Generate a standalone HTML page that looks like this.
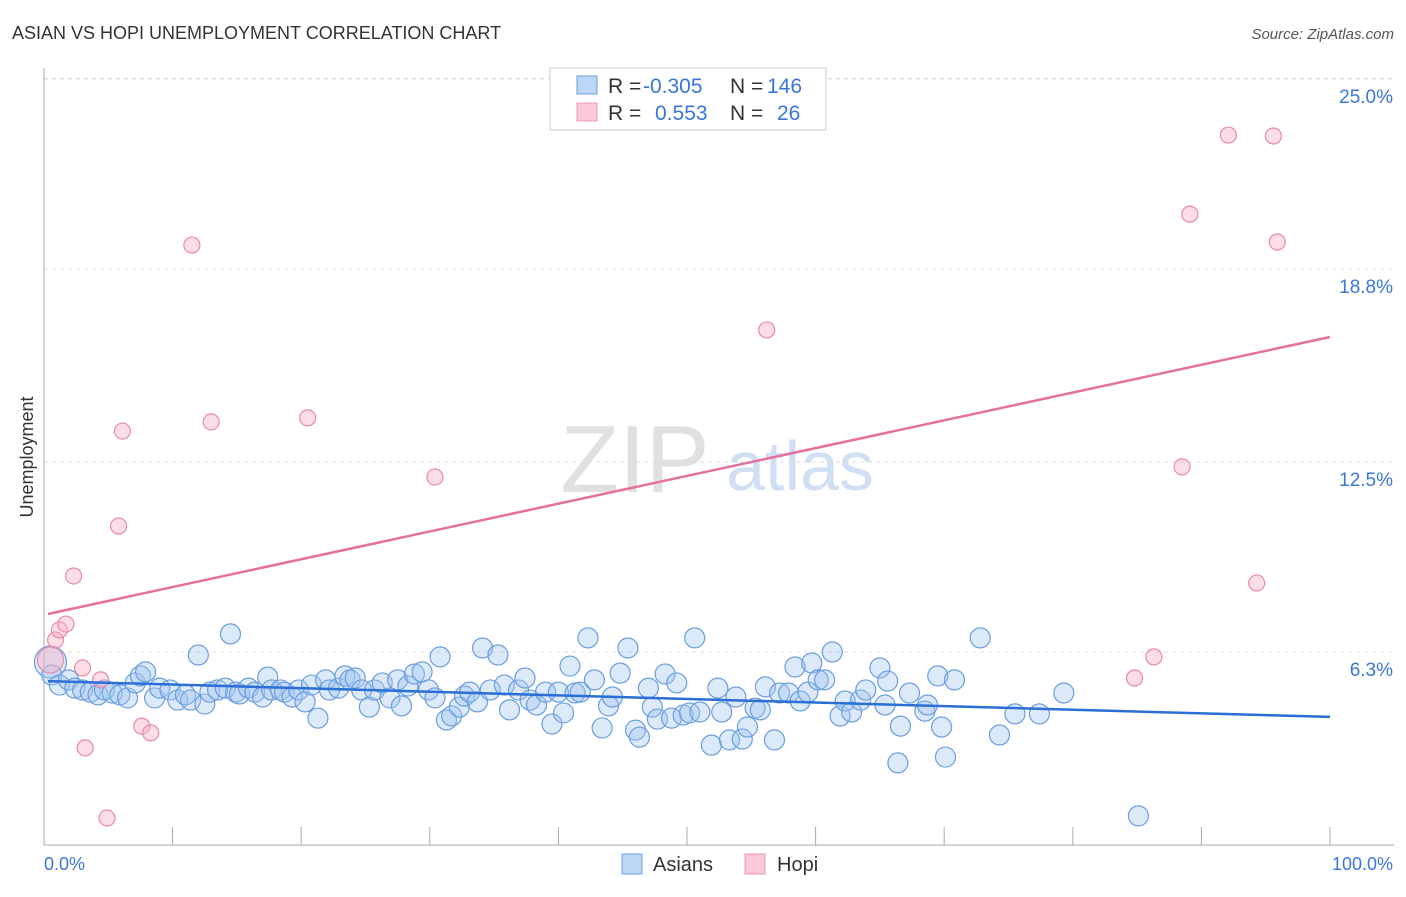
<!DOCTYPE html>
<html><head><meta charset="utf-8"><style>
body{margin:0;background:#fff;font-family:"Liberation Sans",sans-serif}
svg text{font-family:"Liberation Sans",sans-serif}
</style></head><body>
<svg id="c" width="1406" height="892" viewBox="0 0 1406 892">
<text x="12" y="39" font-size="18" fill="#333">ASIAN VS HOPI UNEMPLOYMENT CORRELATION CHART</text>
<text x="1394" y="39" font-size="15" fill="#555" text-anchor="end" font-style="italic">Source: ZipAtlas.com</text>
<text x="33" y="457" font-size="18" fill="#333" transform="rotate(-90 33 457)" text-anchor="middle">Unemployment</text>
<g>
<text x="635" y="492" font-size="96" fill="#e0e0e0" font-family="Liberation Serif" text-anchor="middle">ZIP</text>
<text x="800" y="490" font-size="70" fill="#d0dff4" text-anchor="middle">atlas</text>
</g>
<g id="grid"></g><g id="axes"></g><g id="pts"></g><g id="lines"></g>
<g>
<rect x="550" y="68" width="276" height="62" fill="#fff" stroke="#ccc"/>
<rect x="577" y="76" width="20" height="18" fill="#bcd6f6" stroke="#6a9de0"/>
<rect x="577" y="103" width="20" height="18" fill="#f9c9d7" stroke="#e89ab2"/>
<text x="608" y="93" font-size="21" fill="#333">R = </text><text x="643" y="93" font-size="21" fill="#3a76d8">-0.305</text>
<text x="730" y="93" font-size="21" fill="#333">N = </text><text x="767" y="93" font-size="21" fill="#3a76d8">146</text>
<text x="608" y="120" font-size="21" fill="#333">R = </text><text x="655" y="120" font-size="21" fill="#3a76d8">0.553</text>
<text x="730" y="120" font-size="21" fill="#333">N = </text><text x="777" y="120" font-size="21" fill="#3a76d8">26</text>
</g>
<g>
<rect x="622" y="854" width="20" height="20" fill="#bcd6f6" stroke="#6a9de0"/>
<text x="653" y="871" font-size="20" fill="#333">Asians</text>
<rect x="745" y="854" width="20" height="20" fill="#f9c9d7" stroke="#e89ab2"/>
<text x="777" y="871" font-size="20" fill="#333">Hopi</text>
</g>
</svg>
<script>
const yTicks=[6.3,12.5,18.8,25.0];
const yTickLabels=["6.3%","12.5%","18.8%","25.0%"];
const xTickVals=[0,10,20,30,40,50,60,70,80,90,100];
const asianX=[0.5,0.6,1.2,1.9,2.4,3.0,3.6,4.2,4.7,5.3,5.9,6.5,7.1,7.5,7.9,8.6,9.0,9.8,10.4,11.0,11.4,12.0,12.5,12.9,13.5,14.1,14.5,14.9,15.2,15.9,16.4,17.0,17.4,17.7,18.4,18.7,19.3,19.8,20.3,20.8,21.3,21.9,22.2,22.9,23.4,23.8,24.2,24.7,25.3,25.7,26.3,26.9,27.5,27.8,28.3,28.8,29.4,29.9,30.4,30.8,31.3,31.7,32.3,32.7,33.1,33.7,34.1,34.7,35.3,35.8,36.2,36.9,37.4,37.8,38.3,39.0,39.5,40.0,40.4,40.9,41.3,41.7,42.3,42.8,43.4,43.9,44.2,44.8,45.4,46.0,46.3,47.0,47.3,47.7,48.3,48.8,49.2,49.7,50.2,50.6,51.0,51.9,52.4,52.7,53.3,53.8,54.3,54.7,55.3,55.7,56.1,56.8,57.2,57.9,58.4,58.8,59.4,59.7,60.2,60.7,61.3,61.9,62.3,62.8,63.5,63.9,65.0,65.6,65.4,66.6,66.4,67.3,68.5,68.7,69.5,69.8,70.1,70.8,72.8,74.3,75.5,77.4,79.3,85.1];
const asianY=[5.97,5.55,5.22,5.39,5.12,5.06,4.99,4.90,5.06,4.96,4.90,4.80,5.29,5.52,5.65,4.80,5.12,5.06,4.73,4.90,4.73,6.20,4.60,4.99,5.06,5.12,6.89,4.99,4.93,5.12,4.99,4.83,5.48,5.06,5.06,4.99,4.83,5.06,4.67,5.22,4.14,5.39,5.06,5.12,5.52,5.39,5.45,5.06,4.50,5.06,5.29,4.80,5.39,4.54,5.19,5.58,5.65,5.06,4.80,6.14,4.08,4.21,4.50,4.86,4.99,4.67,6.43,5.06,6.20,5.22,4.41,5.06,5.45,4.73,4.57,4.99,3.95,4.99,4.31,5.84,4.96,4.99,6.76,5.39,3.82,4.54,4.83,5.61,6.43,3.75,3.52,5.12,4.50,4.11,5.58,4.14,5.29,4.24,4.31,6.76,4.34,3.26,5.12,4.34,3.43,4.83,3.46,3.85,4.47,4.41,5.16,3.43,4.96,4.96,5.81,4.70,4.99,5.94,5.39,5.39,6.30,4.21,4.70,4.34,4.73,5.06,5.78,5.35,4.57,3.88,2.68,4.96,4.37,4.57,5.52,3.85,2.87,5.39,6.76,3.59,4.28,4.28,4.96,0.95];
const hopiX=[0.5,0.9,1.2,1.7,2.3,3.0,3.2,4.4,4.9,5.8,6.1,7.6,8.3,11.5,13.0,20.5,30.4,56.2,84.8,86.3,88.5,89.1,92.1,94.3,95.6,95.9];
const hopiY=[6.04,6.69,7.02,7.21,8.78,5.78,3.17,5.39,0.88,10.41,13.51,3.88,3.66,19.58,13.81,13.94,12.01,16.81,5.45,6.14,12.34,20.59,23.17,8.55,23.14,19.68];
const asianTrend=[5.35,4.18];
const hopiTrend=[7.54,16.58];
const NS="http://www.w3.org/2000/svg";
const X0=44,X1=1330,Y0=845,YS=30.64;
function sx(v){return X0+(X1-X0)*v/100;}
function sy(v){return Y0-v*YS;}
function mk(tag,attrs,parent){const e=document.createElementNS(NS,tag);for(const k in attrs)e.setAttribute(k,attrs[k]);document.getElementById(parent).appendChild(e);return e;}
let g=mk('line',{x1:X0,x2:1394,y1:sy(25)-0.6,y2:sy(25)-0.6,stroke:'#ddd','stroke-dasharray':'4 4'},'grid');


yTicks.forEach((t,i)=>{
 const l=mk('line',{x1:X0,x2:1394,y1:sy(t),y2:sy(t),stroke:'#ddd','stroke-dasharray':'4 4'},'grid');
 
 
 const tx=mk('text',{x:1393,y:sy(t)+24,'font-size':19,fill:'#3a76d8','text-anchor':'end'},'grid');
 tx.textContent=yTickLabels[i];
 
 
});
let ax=mk('line',{x1:X0,x2:X0,y1:68,y2:Y0,stroke:'#aaa'},'axes');


let bx=mk('line',{x1:X0,x2:1394,y1:Y0,y2:Y0,stroke:'#aaa'},'axes');


xTickVals.forEach(v=>{
 const t=mk('line',{x1:sx(v),x2:sx(v),y1:Y0,y2:Y0-18,stroke:'#aaa'},'axes');
 
 
});
let xl=mk('text',{x:44,y:870,'font-size':18,fill:'#3a76d8'},'axes');xl.textContent='0.0%';


let xr=mk('text',{x:1393,y:870,'font-size':18,fill:'#3a76d8','text-anchor':'end'},'axes');xr.textContent='100.0%';


asianX.forEach((x,i)=>{
 const c=mk('circle',{cx:sx(x),cy:sy(asianY[i]),r:i===0?16:10,fill:'rgba(160,196,240,0.38)',stroke:'#6a9de0','stroke-width':1.2},'pts');
 
 
});
hopiX.forEach((x,i)=>{
 const c=mk('circle',{cx:sx(x),cy:sy(hopiY[i]),r:i===0?13:8,fill:'rgba(248,180,200,0.45)',stroke:'#e88aa6','stroke-width':1.2},'pts');
 
 
});
let la=mk('line',{x1:sx(0.3),x2:sx(100),y1:sy(asianTrend[0]),y2:sy(asianTrend[1]),stroke:'#2b6fd6','stroke-width':2.5},'lines');


let lh=mk('line',{x1:sx(0.3),x2:sx(100),y1:sy(hopiTrend[0]),y2:sy(hopiTrend[1]),stroke:'#e5709a','stroke-width':2.5},'lines');


</script>
</body></html>
